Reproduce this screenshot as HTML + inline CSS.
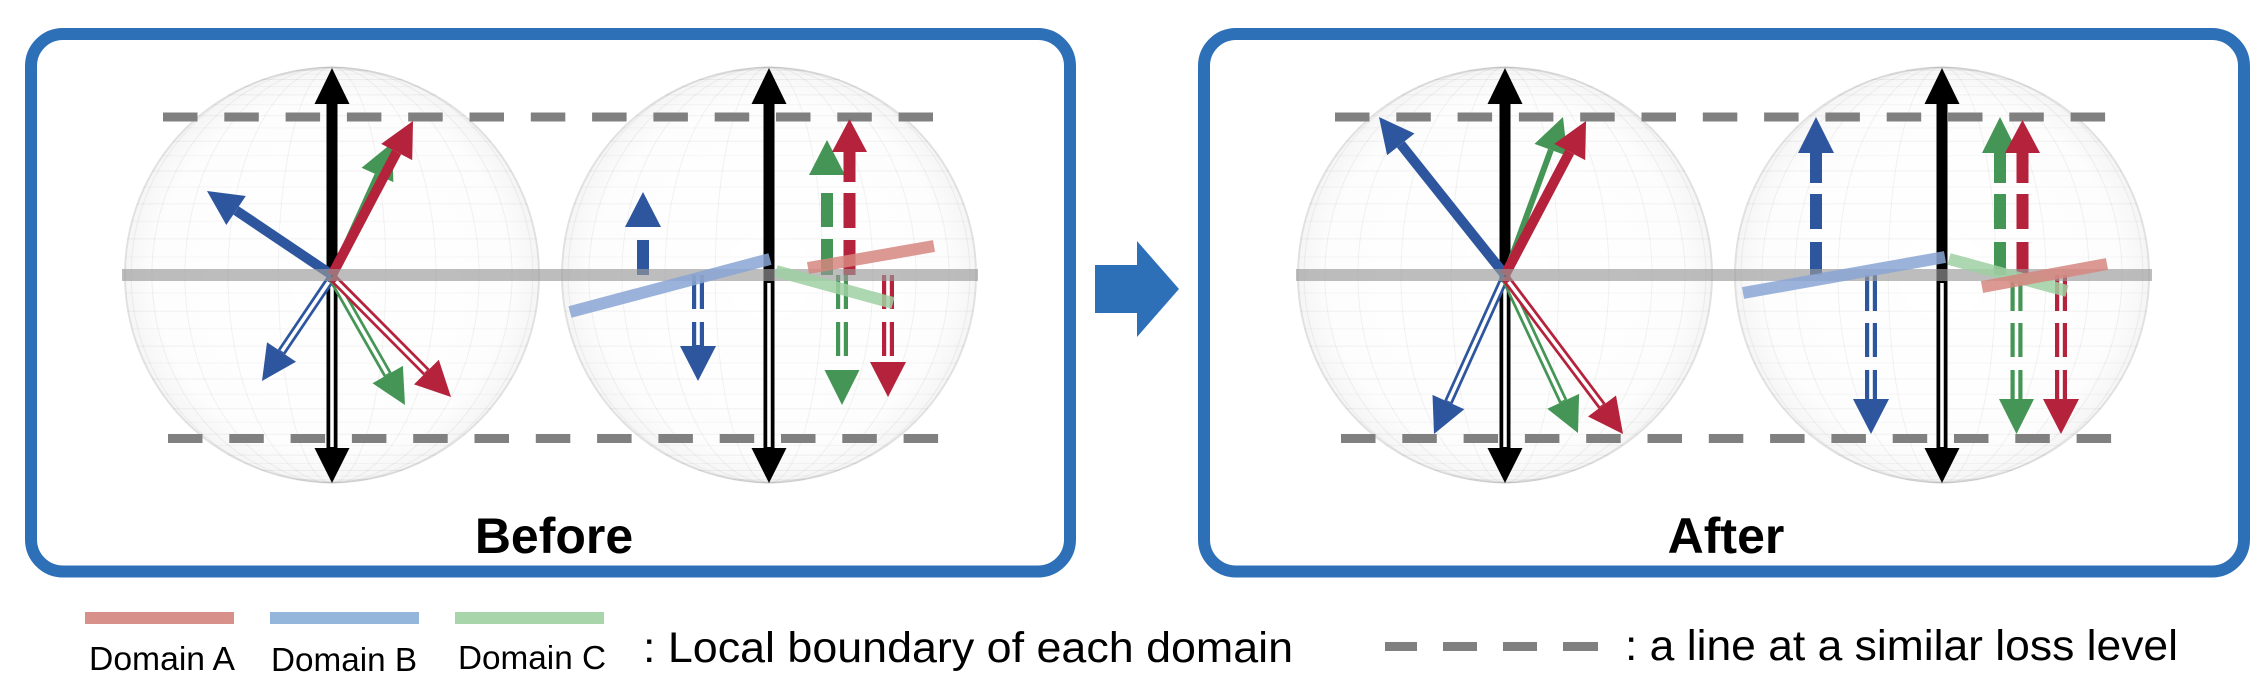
<!DOCTYPE html>
<html>
<head>
<meta charset="utf-8">
<style>
html,body{margin:0;padding:0;background:#fff;}
svg{display:block;}
text{font-family:"Liberation Sans",Arial,sans-serif;}
</style>
</head>
<body>
<svg width="2266" height="692" viewBox="0 0 2266 692" xmlns="http://www.w3.org/2000/svg">
<defs>
  <radialGradient id="sg" cx="50%" cy="50%" r="50%">
    <stop offset="0" stop-color="#000" stop-opacity="0"/>
    <stop offset="0.85" stop-color="#000" stop-opacity="0.008"/>
    <stop offset="1" stop-color="#000" stop-opacity="0.04"/>
  </radialGradient>
  <g id="sph">
    <circle cx="0" cy="0" r="208" fill="url(#sg)"/>
    <g fill="none" stroke="#000" stroke-opacity="0.05" stroke-width="1">
      <path d="M-204.8,36.1H204.8M-204.8,-36.1H204.8M-195.5,71.1H195.5M-195.5,-71.1H195.5M-180.1,104H180.1M-180.1,-104H180.1M-159.3,133.7H159.3M-159.3,-133.7H159.3M-133.7,159.3H133.7M-133.7,-159.3H133.7M-104,180.1H104M-104,-180.1H104M-71.1,195.5H71.1M-71.1,-195.5H71.1M-36.1,204.8H36.1M-36.1,-204.8H36.1"/>
      <path d="M-206.5,18H206.5M-206.5,-18H206.5M-200.9,53.8H200.9M-200.9,-53.8H200.9M-188.5,88H188.5M-188.5,-88H188.5M-170.4,119.3H170.4M-170.4,-119.3H170.4M-147.1,147.1H147.1M-147.1,-147.1H147.1M-119.3,170.4H119.3M-119.3,-170.4H119.3M-88,188.5H88M-88,-188.5H88M-53.8,200.9H53.8M-53.8,-200.9H53.8" stroke-opacity="0.03"/>
      <ellipse cx="0" cy="0" rx="53.8" ry="208"/>
      <ellipse cx="0" cy="0" rx="104" ry="208"/>
      <ellipse cx="0" cy="0" rx="147.1" ry="208"/>
      <ellipse cx="0" cy="0" rx="180.1" ry="208"/>
      <ellipse cx="0" cy="0" rx="200.9" ry="208"/>
      <line x1="0" y1="-208" x2="0" y2="208"/>
    </g>
    <circle cx="0" cy="0" r="207" fill="none" stroke="#000" stroke-opacity="0.08" stroke-width="2"/>
  </g>
  <g id="blk">
    <rect x="-5.5" y="102" width="11" height="173" fill="#000"/>
    <polygon points="0,68 -17.5,104 17.5,104" fill="#000"/>
    <rect x="-5.5" y="275" width="11" height="175" fill="#000"/>
    <rect x="-1.75" y="283" width="3.5" height="164" fill="#fff"/>
    <polygon points="0,483 -17.5,448 17.5,448" fill="#000"/>
  </g>
</defs>

<rect x="31" y="34" width="1039" height="537.5" rx="32" ry="32" fill="none" stroke="#2E70B8" stroke-width="12"/>
<rect x="1204" y="34" width="1040" height="537.5" rx="32" ry="32" fill="none" stroke="#2E70B8" stroke-width="12"/>

<polygon points="1095,265 1137,265 1137,241 1179,289 1137,337 1137,313 1095,313" fill="#2E70B8"/>

<use href="#sph" transform="translate(332,275)"/>
<use href="#sph" transform="translate(769,275)"/>
<use href="#sph" transform="translate(1505,275)"/>
<use href="#sph" transform="translate(1942,275)"/>

<g stroke="#808080" stroke-width="9" stroke-dasharray="34.5 26.8" fill="none">
  <line x1="163" y1="117" x2="933" y2="117"/>
  <line x1="168" y1="438.5" x2="939" y2="438.5"/>
  <line x1="1335" y1="117" x2="2106" y2="117"/>
  <line x1="1341" y1="438.5" x2="2112" y2="438.5"/>
</g>

<!-- Sphere 1 -->
<use href="#blk" transform="translate(332,0)"/>
<g stroke-linecap="butt">
  <line x1="332" y1="277" x2="281.5" y2="352" stroke="#2E569E" stroke-width="9"/>
  <line x1="328.7" y1="282" x2="282" y2="351.2" stroke="#fff" stroke-width="3.5"/>
  <polygon points="262,381 296,361.8 267,342.2" fill="#2E569E"/>
  <line x1="332" y1="277" x2="387.7" y2="374.6" stroke="#459656" stroke-width="9"/>
  <line x1="335" y1="282.2" x2="387.2" y2="373.7" stroke="#fff" stroke-width="3.5"/>
  <polygon points="405,405 372.5,383.3 402.9,365.9" fill="#459656"/>
  <line x1="332" y1="277" x2="426.4" y2="372.1" stroke="#B4233B" stroke-width="9"/>
  <line x1="336.2" y1="281.3" x2="425.7" y2="371.4" stroke="#fff" stroke-width="3.5"/>
  <polygon points="451,397 414,384.4 438.8,359.8" fill="#B4233B"/>
  <line x1="332" y1="275" x2="236.1" y2="210.5" stroke="#2E569E" stroke-width="10"/>
  <polygon points="207,191 245.8,196 226.3,225" fill="#2E569E"/>
  <line x1="332" y1="275" x2="377.5" y2="174.9" stroke="#459656" stroke-width="6"/>
  <polygon points="392,143 393.4,182.1 361.6,167.7" fill="#459656"/>
  <line x1="332" y1="275" x2="396.7" y2="152" stroke="#B4233B" stroke-width="10"/>
  <polygon points="413,121 412.2,160.1 381.2,143.9" fill="#B4233B"/>
</g>

<!-- Sphere 2 -->
<use href="#blk" transform="translate(769,0)"/>
<rect x="637" y="240" width="12" height="35" fill="#2E569E"/>
<polygon points="643,192 625,227 661,227" fill="#2E569E"/>
<rect x="692" y="275" width="12" height="34" fill="#2E569E"/>
<rect x="692" y="322" width="12" height="24" fill="#2E569E"/>
<rect x="696.2" y="275" width="3.6" height="34" fill="#fff"/>
<rect x="696.2" y="322" width="3.6" height="23" fill="#fff"/>
<polygon points="698,381 680,346 716,346" fill="#2E569E"/>
<rect x="821" y="239" width="12" height="36" fill="#459656"/>
<rect x="821" y="193" width="12" height="34" fill="#459656"/>
<polygon points="827,140 809,175 845,175" fill="#459656"/>
<rect x="843.5" y="240" width="12" height="35" fill="#B4233B"/>
<rect x="843.5" y="193" width="12" height="35" fill="#B4233B"/>
<rect x="843.5" y="150" width="12" height="32" fill="#B4233B"/>
<polygon points="849.5,119 832,152 867,152" fill="#B4233B"/>
<rect x="836" y="275" width="12" height="34" fill="#459656"/>
<rect x="836" y="322" width="12" height="34" fill="#459656"/>
<rect x="840.2" y="275" width="3.6" height="34" fill="#fff"/>
<rect x="840.2" y="322" width="3.6" height="34" fill="#fff"/>
<polygon points="842,405 824.5,370 859.5,370" fill="#459656"/>
<rect x="882" y="275" width="12" height="34" fill="#B4233B"/>
<rect x="882" y="322" width="12" height="34" fill="#B4233B"/>
<rect x="886.2" y="275" width="3.6" height="34" fill="#fff"/>
<rect x="886.2" y="322" width="3.6" height="34" fill="#fff"/>
<polygon points="888,397 870,362 906,362" fill="#B4233B"/>

<!-- Sphere 3 -->
<use href="#blk" transform="translate(1505,0)"/>
<g stroke-linecap="butt">
  <line x1="1505" y1="277" x2="1448.4" y2="402.1" stroke="#2E569E" stroke-width="9"/>
  <line x1="1502.5" y1="282.5" x2="1448.8" y2="401.2" stroke="#fff" stroke-width="3.5"/>
  <polygon points="1434,434 1464.3,409.3 1432.5,394.9" fill="#2E569E"/>
  <line x1="1505" y1="277" x2="1563.2" y2="401.3" stroke="#459656" stroke-width="9"/>
  <line x1="1507.5" y1="282.4" x2="1562.8" y2="400.4" stroke="#fff" stroke-width="3.5"/>
  <polygon points="1578,433 1547.3,408.7 1579.1,393.9" fill="#459656"/>
  <line x1="1505" y1="277" x2="1602" y2="406" stroke="#B4233B" stroke-width="9"/>
  <line x1="1508.6" y1="281.8" x2="1601.4" y2="405.2" stroke="#fff" stroke-width="3.5"/>
  <polygon points="1623,434 1588,416.5 1616,395.5" fill="#B4233B"/>
  <line x1="1505" y1="275" x2="1400.8" y2="144.4" stroke="#2E569E" stroke-width="10"/>
  <polygon points="1379,117 1414.5,133.5 1387.1,155.3" fill="#2E569E"/>
  <line x1="1505" y1="275" x2="1550.9" y2="149.9" stroke="#459656" stroke-width="6"/>
  <polygon points="1563,117 1567.3,155.9 1534.5,143.9" fill="#459656"/>
  <line x1="1505" y1="275" x2="1569.7" y2="152" stroke="#B4233B" stroke-width="10"/>
  <polygon points="1586,121 1585.2,160.1 1554.2,143.9" fill="#B4233B"/>
</g>

<!-- Sphere 4 -->
<use href="#blk" transform="translate(1942,0)"/>
<rect x="1810" y="242" width="12" height="33" fill="#2E569E"/>
<rect x="1810" y="194" width="12" height="35" fill="#2E569E"/>
<rect x="1810" y="151" width="12" height="32" fill="#2E569E"/>
<polygon points="1816,117 1798,153 1834,153" fill="#2E569E"/>
<rect x="1994" y="242" width="12" height="33" fill="#459656"/>
<rect x="1994" y="194" width="12" height="35" fill="#459656"/>
<rect x="1994" y="151" width="12" height="32" fill="#459656"/>
<polygon points="2000,117 1982,153 2018,153" fill="#459656"/>
<rect x="2016.5" y="242" width="12" height="33" fill="#B4233B"/>
<rect x="2016.5" y="194" width="12" height="35" fill="#B4233B"/>
<rect x="2016.5" y="151" width="12" height="32" fill="#B4233B"/>
<polygon points="2022.5,120 2005,153 2040,153" fill="#B4233B"/>
<rect x="1865" y="275" width="12" height="36" fill="#2E569E"/>
<rect x="1865" y="323" width="12" height="34" fill="#2E569E"/>
<rect x="1865" y="370" width="12" height="31" fill="#2E569E"/>
<rect x="1869.2" y="275" width="3.6" height="36" fill="#fff"/>
<rect x="1869.2" y="323" width="3.6" height="34" fill="#fff"/>
<rect x="1869.2" y="370" width="3.6" height="29" fill="#fff"/>
<polygon points="1871,434 1853,399 1889,399" fill="#2E569E"/>
<rect x="2010.5" y="275" width="12" height="36" fill="#459656"/>
<rect x="2010.5" y="323" width="12" height="34" fill="#459656"/>
<rect x="2010.5" y="370" width="12" height="31" fill="#459656"/>
<rect x="2014.7" y="275" width="3.6" height="36" fill="#fff"/>
<rect x="2014.7" y="323" width="3.6" height="34" fill="#fff"/>
<rect x="2014.7" y="370" width="3.6" height="29" fill="#fff"/>
<polygon points="2016.5,434 1999,399 2034,399" fill="#459656"/>
<rect x="2055" y="275" width="12" height="36" fill="#B4233B"/>
<rect x="2055" y="323" width="12" height="34" fill="#B4233B"/>
<rect x="2055" y="370" width="12" height="31" fill="#B4233B"/>
<rect x="2059.2" y="275" width="3.6" height="36" fill="#fff"/>
<rect x="2059.2" y="323" width="3.6" height="34" fill="#fff"/>
<rect x="2059.2" y="370" width="3.6" height="29" fill="#fff"/>
<polygon points="2061,434 2043,399 2079,399" fill="#B4233B"/>

<g stroke="#999" stroke-opacity="0.65" stroke-width="12">
  <line x1="122" y1="275" x2="978" y2="275"/>
  <line x1="1296" y1="275" x2="2152" y2="275"/>
</g>

<g stroke-width="12" stroke-linecap="butt" stroke-opacity="0.85">
  <line x1="570" y1="312" x2="770" y2="259" stroke="#8AA6D3"/>
  <line x1="776" y1="271" x2="893" y2="303" stroke="#9FD0A2"/>
  <line x1="808" y1="268" x2="934" y2="246" stroke="#D6867F"/>
  <line x1="1743" y1="293" x2="1945" y2="257" stroke="#8AA6D3"/>
  <line x1="1949" y1="259" x2="2067" y2="291" stroke="#9FD0A2"/>
  <line x1="1982" y1="287" x2="2107" y2="264" stroke="#D6867F"/>
</g>

<text x="554" y="553" font-size="50" font-weight="bold" text-anchor="middle" fill="#000">Before</text>
<text x="1726" y="553" font-size="50" font-weight="bold" text-anchor="middle" fill="#000">After</text>

<rect x="85" y="612" width="149" height="12" fill="#D8908A"/>
<rect x="270" y="612" width="149" height="12" fill="#95B6DB"/>
<rect x="455" y="612" width="149" height="12" fill="#A8D5AA"/>
<text x="89" y="670" font-size="33" textLength="146" lengthAdjust="spacingAndGlyphs" fill="#000">Domain A</text>
<text x="271" y="671" font-size="33" textLength="146" lengthAdjust="spacingAndGlyphs" fill="#000">Domain B</text>
<text x="458" y="669" font-size="33" textLength="148" lengthAdjust="spacingAndGlyphs" fill="#000">Domain C</text>
<text x="643" y="662" font-size="43" textLength="650" lengthAdjust="spacingAndGlyphs" fill="#000">: Local boundary of each domain</text>
<g fill="#808080">
  <rect x="1385" y="642" width="32" height="9"/>
  <rect x="1443" y="642" width="34" height="9"/>
  <rect x="1503" y="642" width="34" height="9"/>
  <rect x="1563" y="642" width="35" height="9"/>
</g>
<text x="1625" y="660" font-size="43" textLength="553" lengthAdjust="spacingAndGlyphs" fill="#000">: a line at a similar loss level</text>
</svg>
</body>
</html>
